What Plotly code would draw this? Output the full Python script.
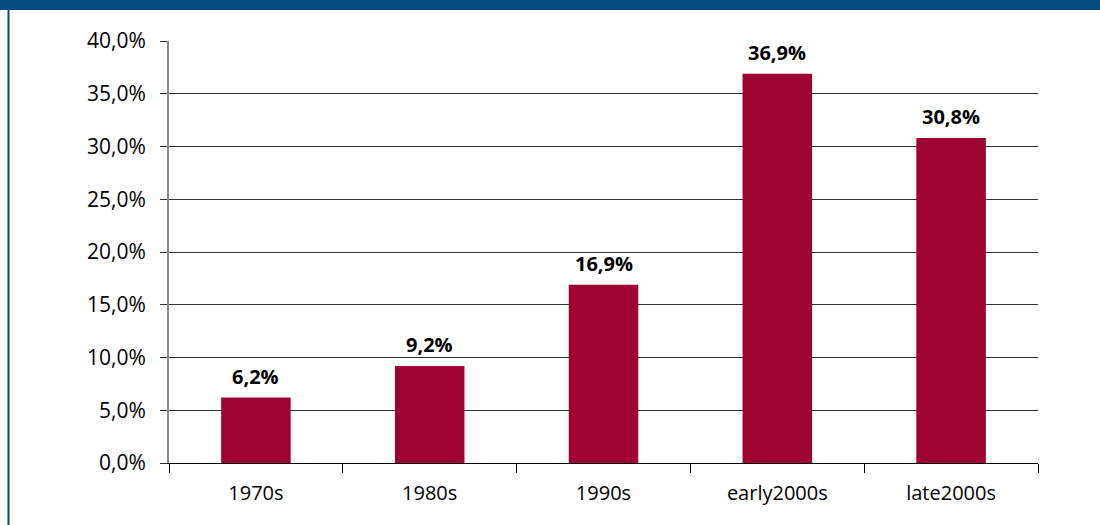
import plotly.graph_objects as go

categories = ["1970s", "1980s", "1990s", "early2000s", "late2000s"]
values = [0.062, 0.092, 0.169, 0.369, 0.308]
y_ticks = [0.0, 0.05, 0.10, 0.15, 0.20, 0.25, 0.30, 0.35, 0.40]

BAR = "#9E0233"
BLUE = "#034A80"
FONT = "Open Sans, DejaVu Sans, sans-serif"

L, R, T, B = 169, 62, 41, 62
W, H = 1100, 525
pw, ph = W - L - R, H - T - B

def px_x(px):
    return (px - L) / pw

def px_y(py):
    return (H - B - py) / ph

fig = go.Figure(go.Bar(
    x=categories, y=values, marker=dict(color=BAR, line=dict(width=0)),
    hoverinfo="x+y",
))

annotations = [
    dict(x=c, y=v, xref="x", yref="y", text="<b>" + f"{v*100:.1f}".replace(".", ",") + "%</b>",
         showarrow=False, yanchor="bottom", yshift=6,
         font=dict(size=20, color="#000000", family=FONT))
    for c, v in zip(categories, values)
]

fig.update_layout(
    width=W, height=H, margin=dict(l=L, r=R, t=T, b=B, pad=0),
    paper_bgcolor="white", plot_bgcolor="white",
    separators=",.", bargap=0.6, showlegend=False,
    font=dict(family=FONT, size=20, color="#000000"),
    annotations=annotations,
    xaxis=dict(
        type="category", tickson="boundaries", ticks="outside", ticklen=9,
        tickcolor="#000000", tickwidth=1, showline=True, linecolor="#000000",
        linewidth=1, showgrid=False, tickfont=dict(size=20), ticklabelstandoff=12,
    ),
    yaxis=dict(
        range=[0, 0.40], tickvals=y_ticks, tickformat=".1%", ticks="outside",
        ticklen=7, tickcolor="#333333", showgrid=True, gridcolor="#333333",
        gridwidth=1, showline=True, linecolor="#888888", linewidth=2,
        zeroline=False, tickfont=dict(size=21), ticklabelstandoff=10,
    ),
    shapes=[
        dict(type="rect", xref="paper", yref="paper", x0=px_x(0), x1=px_x(W),
             y0=px_y(10), y1=px_y(0), fillcolor=BLUE, line=dict(width=0), layer="above"),
        dict(type="line", xref="paper", yref="paper", x0=px_x(8.5), x1=px_x(8.5),
             y0=px_y(H), y1=px_y(0), line=dict(color=BLUE, width=2), layer="above"),
    ],
)

fig.write_html("out.html")
